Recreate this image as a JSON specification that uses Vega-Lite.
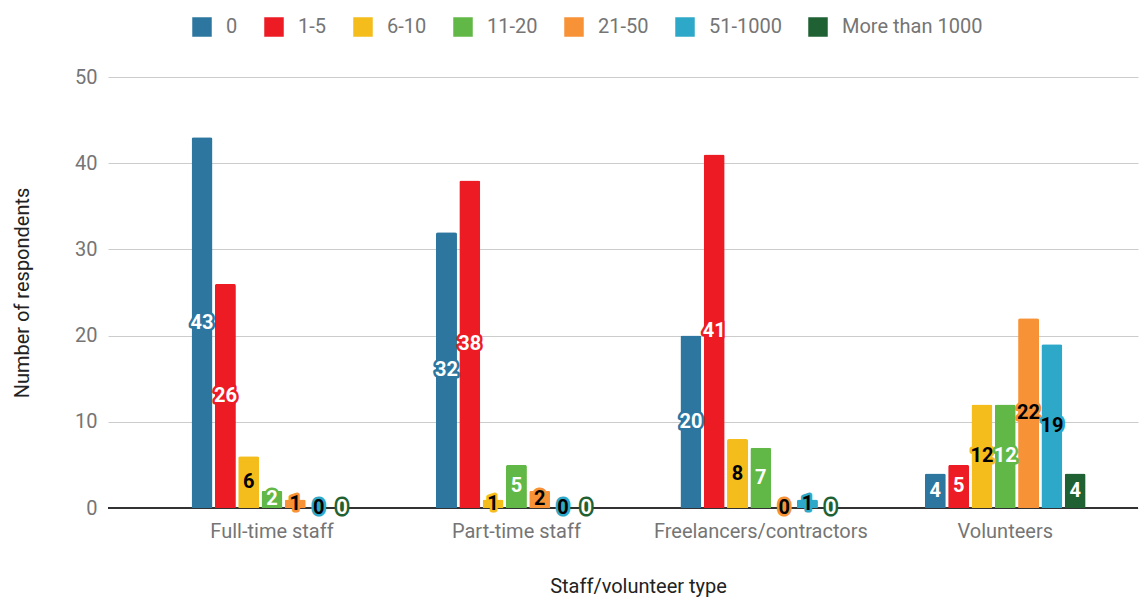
{
  "$schema": "https://vega.github.io/schema/vega-lite/v6.json",
  "autosize": {"type": "none"},
  "padding": {"left": 108, "top": 77, "right": 8, "bottom": 91},
  "width": 1030,
  "height": 431,
  "background": "#ffffff",
  "config": {
    "font": "Roboto",
    "view": {"stroke": null},
    "axis": {"labelFont": "Roboto", "titleFont": "Roboto", "titleFontWeight": "normal"},
    "legend": {"labelFont": "Roboto"}
  },
  "data": {
    "values": [
      {"type": "Full-time staff", "series": "0", "value": 43},
      {"type": "Full-time staff", "series": "1-5", "value": 26},
      {"type": "Full-time staff", "series": "6-10", "value": 6},
      {"type": "Full-time staff", "series": "11-20", "value": 2},
      {"type": "Full-time staff", "series": "21-50", "value": 1},
      {"type": "Full-time staff", "series": "51-1000", "value": 0},
      {"type": "Full-time staff", "series": "More than 1000", "value": 0},
      {"type": "Part-time staff", "series": "0", "value": 32},
      {"type": "Part-time staff", "series": "1-5", "value": 38},
      {"type": "Part-time staff", "series": "6-10", "value": 1},
      {"type": "Part-time staff", "series": "11-20", "value": 5},
      {"type": "Part-time staff", "series": "21-50", "value": 2},
      {"type": "Part-time staff", "series": "51-1000", "value": 0},
      {"type": "Part-time staff", "series": "More than 1000", "value": 0},
      {"type": "Freelancers/contractors", "series": "0", "value": 20},
      {"type": "Freelancers/contractors", "series": "1-5", "value": 41},
      {"type": "Freelancers/contractors", "series": "6-10", "value": 8},
      {"type": "Freelancers/contractors", "series": "11-20", "value": 7},
      {"type": "Freelancers/contractors", "series": "21-50", "value": 0},
      {"type": "Freelancers/contractors", "series": "51-1000", "value": 1},
      {"type": "Freelancers/contractors", "series": "More than 1000", "value": 0},
      {"type": "Volunteers", "series": "0", "value": 4},
      {"type": "Volunteers", "series": "1-5", "value": 5},
      {"type": "Volunteers", "series": "6-10", "value": 12},
      {"type": "Volunteers", "series": "11-20", "value": 12},
      {"type": "Volunteers", "series": "21-50", "value": 22},
      {"type": "Volunteers", "series": "51-1000", "value": 19},
      {"type": "Volunteers", "series": "More than 1000", "value": 4}
    ]
  },
  "encoding": {
    "x": {
      "field": "type",
      "type": "nominal",
      "scale": {
        "domain": ["Full-time staff", "Part-time staff", "Freelancers/contractors", "Volunteers"],
        "paddingInner": 0.342,
        "paddingOuter": 0.278,
        "align": 0.615
      },
      "axis": {
        "title": "Staff/volunteer type",
        "labelAngle": 0,
        "labelFontSize": 20,
        "labelLimit": 0,
        "labelColor": "#757575",
        "labelPadding": 13,
        "ticks": false,
        "domain": false,
        "titleFontSize": 20,
        "titleColor": "#222222",
        "titleX": 530,
        "titleY": 78,
        "titleBaseline": "middle",
        "titleAnchor": null
      }
    },
    "xOffset": {
      "field": "series",
      "type": "nominal",
      "scale": {
        "domain": ["0", "1-5", "6-10", "11-20", "21-50", "51-1000", "More than 1000"],
        "paddingInner": 0.1,
        "paddingOuter": 0
      }
    }
  },
  "layer": [
    {
      "mark": {"type": "rule", "color": "#333333", "strokeWidth": 1},
      "encoding": {"y": {"datum": 0, "type": "quantitative"}, "x": null, "xOffset": null}
    },
    {
      "mark": {"type": "bar", "cornerRadiusTopLeft": 2, "cornerRadiusTopRight": 2},
      "encoding": {
        "y": {
          "field": "value",
          "type": "quantitative",
          "scale": {"domain": [0, 50], "nice": false},
          "axis": {
            "title": "Number of respondents",
            "values": [0, 10, 20, 30, 40, 50],
            "labelFontSize": 20,
            "labelColor": "#757575",
            "labelPadding": 11,
            "ticks": false,
            "domain": false,
            "grid": true,
            "gridColor": "#cccccc",
            "titleFontSize": 20,
            "titleColor": "#222222",
            "titleX": -86,
            "titleY": 215.5,
            "titleAngle": -90,
            "titleAlign": "center",
            "titleBaseline": "middle",
            "titleAnchor": null
          }
        },
        "color": {
          "field": "series",
          "type": "nominal",
          "scale": {
            "domain": ["0", "1-5", "6-10", "11-20", "21-50", "51-1000", "More than 1000"],
            "range": ["#2c76a0", "#ed1c24", "#f4bd1c", "#62b846", "#f79236", "#2ea8c9", "#1f6133"]
          },
          "legend": {
            "title": null,
            "orient": "none",
            "direction": "horizontal",
            "columns": 7,
            "legendX": 84,
            "legendY": -60,
            "symbolType": "square",
            "symbolSize": 380,
            "symbolStrokeWidth": 0,
            "symbolOpacity": 1,
            "labelFontSize": 20,
            "labelColor": "#757575",
            "labelOffset": 14,
            "columnPadding": 26
          }
        }
      }
    },
    {
      "transform": [{"calculate": "datum.value / 2", "as": "mid"}],
      "mark": {"type": "text", "fontSize": 20, "fontWeight": "bold", "strokeWidth": 5, "strokeJoin": "round", "baseline": "middle", "align": "center"},
      "encoding": {
        "y": {"field": "mid", "type": "quantitative"},
        "text": {"field": "value", "type": "quantitative"},
        "color": {"field": "series", "type": "nominal"},
        "stroke": {
          "field": "series",
          "type": "nominal",
          "scale": {
            "domain": ["0", "1-5", "6-10", "11-20", "21-50", "51-1000", "More than 1000"],
            "range": ["#2c76a0", "#ed1c24", "#f4bd1c", "#62b846", "#f79236", "#2ea8c9", "#1f6133"]
          },
          "legend": null
        }
      }
    },
    {
      "transform": [{"calculate": "datum.value / 2", "as": "mid"}],
      "mark": {"type": "text", "fontSize": 20, "fontWeight": "bold", "baseline": "middle", "align": "center"},
      "encoding": {
        "y": {"field": "mid", "type": "quantitative"},
        "text": {"field": "value", "type": "quantitative"},
        "color": {
          "condition": {"test": "indexof(['6-10','21-50','51-1000'], datum.series) >= 0", "value": "#000000"},
          "value": "#ffffff"
        }
      }
    }
  ]
}
